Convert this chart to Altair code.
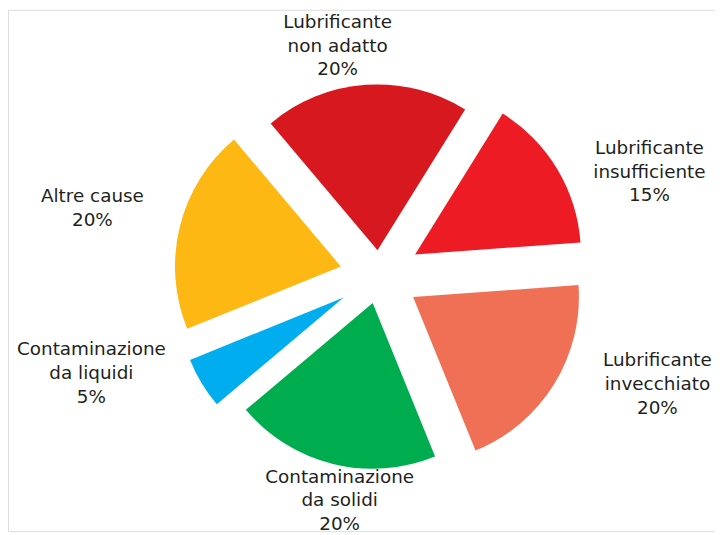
import altair as alt
import pandas as pd

# ---- data ----
categories = [
    "Lubrificante non adatto",
    "Lubrificante insufficiente",
    "Lubrificante invecchiato",
    "Contaminazione da solidi",
    "Contaminazione da liquidi",
    "Altre cause",
]
label_text = [
    "Lubrificante\nnon adatto\n20%",
    "Lubrificante\ninsufficiente\n15%",
    "Lubrificante\ninvecchiato\n20%",
    "Contaminazione\nda solidi\n20%",
    "Contaminazione\nda liquidi\n5%",
    "Altre cause\n20%",
]
values = [20, 15, 20, 20, 5, 20]

# ---- styling / layout ----
colors = ["#D7191F", "#ED1C24", "#F07055", "#00AD4E", "#00AEEF", "#FDB813"]
explode = [26, 42, 40, 28, 42, 40]
label_x = [332, 646, 654, 334, 84, 85]
label_y = [12, 139, 353, 470, 342, 188]  # centre of first line
CX, CY, R = 374, 268, 167
START = -0.70  # radians, clockwise from 12 o'clock

df = pd.DataFrame({
    "order": list(range(len(categories))),
    "category": categories,
    "value": values,
    "explode": explode,
})
lab = pd.DataFrame({"category": categories, "text": label_text,
                    "lx": label_x, "ly": label_y})

color_scale = alt.Scale(domain=categories, range=colors)

pie = (
    alt.Chart(df)
    .transform_window(cum="sum(value)", frame=[None, 0],
                      sort=[alt.SortField("order")])
    .transform_joinaggregate(total="sum(value)")
    .transform_calculate(
        t1=f"{START} + 2*PI*datum.cum/datum.total",
        t0=f"{START} + 2*PI*(datum.cum - datum.value)/datum.total",
    )
    .transform_calculate(mid="(datum.t0 + datum.t1)/2")
    .transform_calculate(
        cx=f"{CX} + datum.explode*sin(datum.mid)",
        cy=f"{CY} - datum.explode*cos(datum.mid)",
    )
    .mark_arc(radius=R)
    .encode(
        theta=alt.Theta("t0:Q", scale=None),
        theta2="t1:Q",
        x=alt.X("cx:Q", scale=None, axis=None),
        y=alt.Y("cy:Q", scale=None, axis=None),
        color=alt.Color("category:N", scale=color_scale, legend=None),
    )
)

labels = (
    alt.Chart(lab)
    .mark_text(lineBreak="\n", font="DejaVu Sans", fontSize=18.5,
               lineHeight=24, color="#231F20", align="center",
               baseline="middle")
    .encode(
        x=alt.X("lx:Q", scale=None, axis=None),
        y=alt.Y("ly:Q", scale=None, axis=None),
        text="text:N",
    )
)

chart = (
    alt.layer(pie, labels)
    .properties(width=712, height=525, autosize="none", padding=0)
    .configure_view(stroke="transparent", strokeWidth=0)
    .configure(background="white")
)

chart.save("out.html", embed_options={"renderer": "svg", "actions": False})
